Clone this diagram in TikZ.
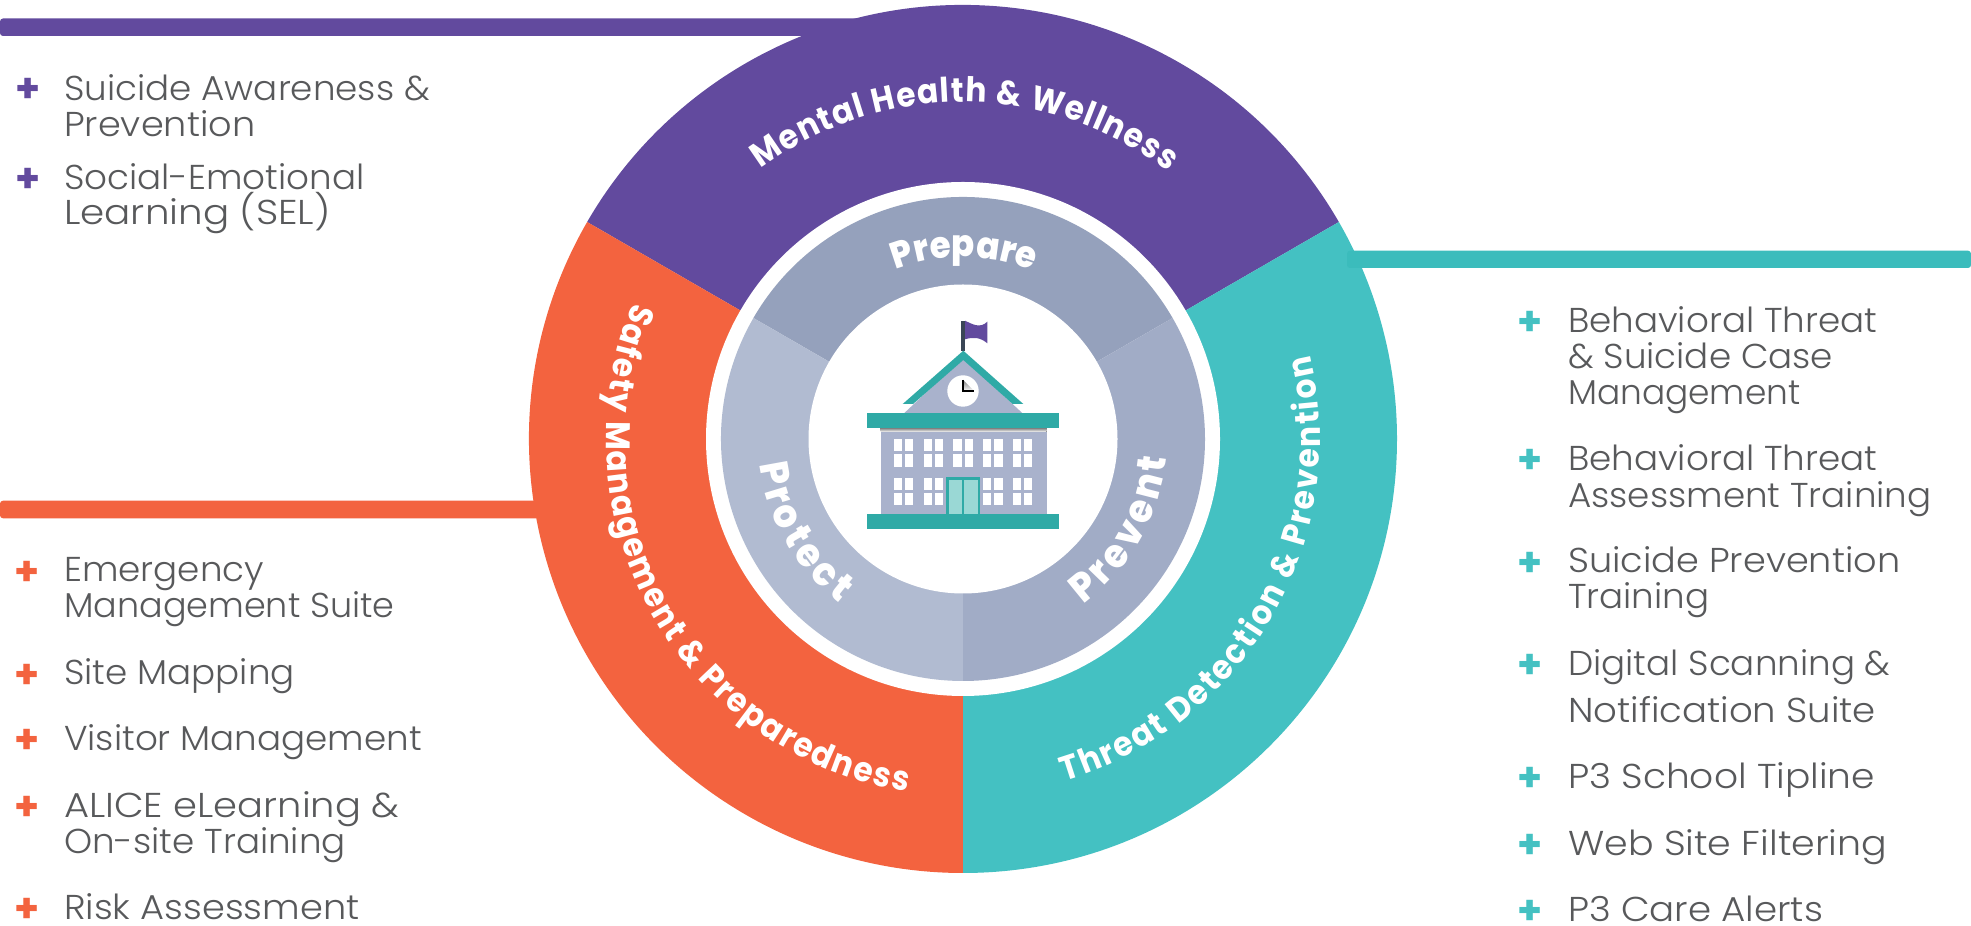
\documentclass[tikz,border=0pt]{standalone}
\usepackage{fontspec}
\usetikzlibrary{decorations.text}
\setmainfont{Poppins Light}
\newfontfamily\listfont[FakeStretch=1.035]{Poppins Light}
\newfontfamily\plusfont{Poppins Bold}
\newfontfamily\ringfont[FakeStretch=0.92]{Poppins Bold}
\newfontfamily\heavyfont[FakeStretch=0.92]{Poppins ExtraBold}
\definecolor{purp}{HTML}{624A9E}
\definecolor{orng}{HTML}{F3633F}
\definecolor{teal1}{HTML}{44C1C2}
\definecolor{teal2}{HTML}{3BBCBC}
\definecolor{graya}{HTML}{95A1BC}
\definecolor{grayb}{HTML}{B1BBD1}
\definecolor{grayc}{HTML}{A1ACC6}
\definecolor{txt}{HTML}{58595B}
\definecolor{roof}{HTML}{2FAAA6}
\definecolor{bldg}{HTML}{A9B2CC}
\definecolor{shade}{HTML}{8F99B8}
\definecolor{doorc}{HTML}{9AD8D5}
\definecolor{pole}{HTML}{3A4656}
\tikzset{
  item/.style={anchor=base west,inner sep=0pt,text=txt,font=\fontsize{34.5}{34.5}\listfont},
  bullet/.style={anchor=base,inner sep=0pt,font=\fontsize{40}{40}\plusfont},
  curved/.style={decorate,decoration={text along path,text={#1},text align={fit to path}}}
}
\newcommand{\bigring}{\fontsize{34}{34}\ringfont\color{white}}
\newcommand{\smallring}{\fontsize{40}{40}\heavyfont\color{white}}
\newcommand{\prepring}{\fontsize{37}{37}\heavyfont\color{white}}
\newcommand{\hfit}[2]{\scalebox{#1}[1]{#2}}
\begin{document}
\begin{tikzpicture}[x=1pt,y=1pt]
\useasboundingbox (0,0) rectangle (1971,926);
\fill[white] (0,0) rectangle (1971,926);
% connector bars
\begin{scope}[shift={(0,926)},yscale=-1]
\fill[purp,rounded corners=3] (0,18.5) rectangle (860,36);
\fill[orng,rounded corners=3] (0,500.7) rectangle (545,518.3);
\end{scope}
% rings
\begin{scope}[shift={(963,487)}]
\fill[purp] (0,0) -- (30:434) arc[start angle=30,end angle=150,radius=434] -- cycle;
\fill[orng] (0,0) -- (150:434) arc[start angle=150,end angle=270,radius=434] -- cycle;
\fill[teal1] (0,0) -- (270:434) arc[start angle=270,end angle=390,radius=434] -- cycle;
\fill[white] (0,0) circle[radius=257];
\fill[graya] (0,0) -- (30:242) arc[start angle=30,end angle=150,radius=242] -- cycle;
\fill[grayb] (0,0) -- (150:242) arc[start angle=150,end angle=270,radius=242] -- cycle;
\fill[grayc] (0,0) -- (270:242) arc[start angle=270,end angle=390,radius=242] -- cycle;
\fill[white] (0,0) circle[radius=154.5];
% curved labels
\path[curved={|\bigring|Mental Health {\&} Wellness}] (126.8:337) arc[start angle=126.8,end angle=52.5,radius=337];
\path[curved={|\bigring|Safety Management {\&} Preparedness}] (157.5:357) arc[start angle=157.5,end angle=261,radius=357];
\path[curved={|\bigring|Threat Detection {\&} Prevention}] (286.5:357) arc[start angle=286.5,end angle=373.5,radius=357];
\path[curved={|\prepring|Prepare}] (111.7:182) arc[start angle=111.7,end angle=67.9,radius=182];
\path[curved={|\smallring|Protect}] (187:205) arc[start angle=187,end angle=233,radius=205];
\path[curved={|\smallring|Prevent}] (306:204) arc[start angle=306,end angle=354.6,radius=204];
\end{scope}
\begin{scope}[shift={(0,926)},yscale=-1]
\fill[teal2,rounded corners=3] (1347,250.7) rectangle (1971,268);
% school
\fill[pole] (961,320.7) rectangle (965,351);
\fill[purp] (965,320.7) .. controls (972,324) and (980,329) .. (987.3,321.7) -- (987.3,343.3) .. controls (980,337) and (973,337) .. (965,339.3) -- cycle;
\fill[bldg] (903.3,414) -- (963,358) -- (1023.3,414) -- cycle;
\fill[roof] (963.3,350.7) -- (1023.3,404) -- (1012.7,404) -- (963.3,360) -- (913,404) -- (902.7,404) -- cycle;
\fill[white] (963,391) circle[radius=15.7];
\draw[shade,line width=2] (963,380) -- (963,391) -- (974,391);
\fill[bldg] (880.7,425) rectangle (1046.7,516);
\fill[shade] (880.7,428) rectangle (1046.7,432);
\fill[roof] (867.3,413.3) rectangle (1058.7,428);
\fill[roof] (867.3,514.3) rectangle (1058.7,529);
\foreach \wx in {893.7,923.7,953.3,983,1012.7}{
  \fill[white] (\wx,439.3) rectangle ++(19.7,27.3);
  \draw[bldg,line width=3] (\wx+9.85,439.3) -- ++(0,27.3);
  \draw[bldg,line width=3] (\wx,453) -- ++(19.7,0);
}
\foreach \wx in {893.7,923.7,983,1012.7}{
  \fill[white] (\wx,477.7) rectangle ++(19.7,27.3);
  \draw[bldg,line width=3] (\wx+9.85,477.7) -- ++(0,27.3);
  \draw[bldg,line width=3] (\wx,491.3) -- ++(19.7,0);
}
\fill[doorc] (946.3,477.3) rectangle (980,514.3);
\draw[roof,line width=2.5] (947.5,514.3) -- (947.5,478.5) -- (978.8,478.5) -- (978.8,514.3);
\draw[roof,line width=2.5] (963.2,478.5) -- (963.2,514.3);
% top-left list
\node[item] (a1) at (64,100.5) {Suicide Awareness \&};
\node[item] (a2) at (64,136.5) {\hfit{1.027}{Prevention}};
\node[item] (a3) at (64,189.5) {Social-Emotional};
\node[item] (a4) at (64,224.5) {\hfit{1.088}{Learning (SEL)}};
% bottom-left list
\node[item] (b1) at (64,582) {Emergency};
\node[item] (b2) at (64,618) {\hfit{0.98}{Management Suite}};
\node[item] (b3) at (64,684.5) {Site Mapping};
\node[item] (b4) at (64,751) {Visitor Management};
\node[item] (b5) at (64,818) {\hfit{1.077}{ALICE eLearning \&}};
\node[item] (b6) at (64,853.5) {On-site Training};
\node[item] (b7) at (64,920) {\hfit{1.03}{Risk Assessment}};
% right list
\node[item] (c1) at (1568,333) {Behavioral Threat};
\node[item] (c2) at (1568,368.5) {\& Suicide Case};
\node[item] (c3) at (1568,404.5) {\hfit{0.963}{Management}};
\node[item] (c4) at (1568,471) {Behavioral Threat};
\node[item] (c5) at (1568,507.5) {Assessment Training};
\node[item] (c6) at (1568,573) {\hfit{1.027}{Suicide Prevention}};
\node[item] (c7) at (1568,608.5) {Training};
\node[item] (c8) at (1568,675.5) {Digital Scanning \&};
\node[item] (c9) at (1568,722.5) {\hfit{1.038}{Notification Suite}};
\node[item] (c10) at (1568,788.5) {\hfit{1.052}{P3 School Tipline}};
\node[item] (c11) at (1568,855.5) {\hfit{1.063}{Web Site Filtering}};
\node[item] (c12) at (1568,922) {\hfit{1.041}{P3 Care Alerts}};
% bullets
\foreach \n/\py in {p1/86,p2/176}{\node[bullet,text=purp] (\n) at (28.5,\py+16.5) {+};}
\foreach \n/\py in {q1/569,q2/671.7,q3/737,q4/804,q5/906}{\node[bullet,text=orng] (\n) at (27,\py+16.5) {+};}
\foreach \n/\py in {r1/319,r2/457,r3/560,r4/662,r5/775,r6/842,r7/908}{\node[bullet,text=teal1] (\n) at (1530.5,\py+16.5) {+};}
\end{scope}
\end{tikzpicture}
\end{document}
